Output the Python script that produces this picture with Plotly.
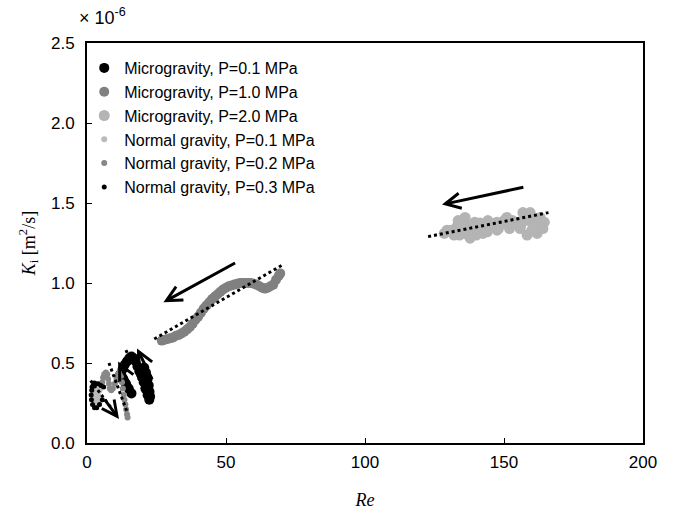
import plotly.graph_objects as go

# ---------------- data (K in units of 1e-6 m^2/s) ----------------
mg01_re = [11.5, 12.0, 12.8, 13.6, 14.4, 15.2, 16.0, 16.8, 17.5, 18.2, 18.8, 19.4, 20.0, 20.6,
           21.2, 21.8, 22.2, 22.5, 22.7, 22.4, 21.8, 21.0, 20.4, 19.8, 13.0, 14.0, 15.0, 16.0]
mg01_k = [0.41, 0.43, 0.46, 0.49, 0.51, 0.53, 0.54, 0.53, 0.51, 0.48, 0.45, 0.43, 0.45, 0.47,
          0.44, 0.40, 0.36, 0.32, 0.29, 0.27, 0.30, 0.34, 0.38, 0.41, 0.40, 0.37, 0.34, 0.31]

mg10_re = [26.9, 28, 29, 30, 31, 32, 33, 34, 35, 36, 37, 38, 39, 40, 41, 42, 43, 44, 45, 46, 47,
           48, 49, 50, 51, 52, 53, 54, 55, 56, 57, 58, 59, 60, 61, 62, 63, 64, 65, 66, 67, 68,
           69, 69.5]
mg10_k = [0.64, 0.645, 0.65, 0.655, 0.66, 0.67, 0.675, 0.685, 0.695, 0.71, 0.725, 0.745, 0.77,
          0.79, 0.815, 0.84, 0.86, 0.88, 0.90, 0.915, 0.93, 0.945, 0.96, 0.97, 0.98, 0.985,
          0.99, 0.995, 1.0, 1.0, 1.0, 1.0, 1.0, 0.995, 0.99, 0.98, 0.97, 0.965, 0.97, 0.98,
          0.99, 1.02, 1.045, 1.06]

mg20_re = [128.5, 130.6, 133.5, 136, 137.8, 141.4, 144.2, 147.5, 151, 153, 156.8, 159.4, 163,
           164.5, 129.5, 134, 137.8, 142.4, 147.5, 152, 155.8, 158.3, 161.9, 164,
           131, 133, 135, 137, 139, 141, 143, 145, 147, 149, 151, 153, 155, 157, 159, 161, 163,
           132, 136, 140, 144, 148, 152, 156, 160, 139.5, 150, 158, 162]
mg20_k = [1.31, 1.33, 1.39, 1.41, 1.36, 1.375, 1.39, 1.38, 1.41, 1.39, 1.44, 1.44, 1.41, 1.38,
          1.33, 1.30, 1.28, 1.31, 1.33, 1.34, 1.34, 1.30, 1.31, 1.34,
          1.32, 1.35, 1.36, 1.34, 1.32, 1.34, 1.35, 1.36, 1.36, 1.37, 1.37, 1.38, 1.38, 1.39,
          1.39, 1.37, 1.37,
          1.30, 1.31, 1.30, 1.32, 1.34, 1.35, 1.36, 1.33, 1.38, 1.39, 1.41, 1.40]

ng01_re = [2.5, 3.0, 2.5, 3.0, 3.5, 4.0, 4.5, 3.5, 4.0, 4.5, 5.0, 3.2, 2.2, 2.6, 3.8, 2.0, 3.0]
ng01_k = [0.36, 0.34, 0.31, 0.28, 0.25, 0.24, 0.26, 0.32, 0.30, 0.33, 0.36, 0.37, 0.33, 0.27,
          0.28, 0.30, 0.24]

ng02_re = [5.5, 5.8, 6.2, 6.8, 7.3, 7.6, 7.9, 8.2, 8.7, 9.3, 10.0, 10.6, 11.2, 11.8, 12.3, 12.6,
           12.9, 13.2, 13.5, 13.8, 14.1, 14.4, 14.6]
ng02_k = [0.38, 0.41, 0.43, 0.44, 0.43, 0.40, 0.37, 0.34, 0.33, 0.34, 0.37, 0.40, 0.43, 0.45,
          0.42, 0.38, 0.34, 0.30, 0.27, 0.24, 0.21, 0.18, 0.16]

ng03_re = [6.0, 5.0, 4.0, 3.0, 2.2, 1.7, 1.5, 1.6, 2.0, 2.7, 3.5, 4.5, 5.5, 1.8, 2.6]
ng03_k = [0.35, 0.36, 0.37, 0.37, 0.36, 0.33, 0.30, 0.27, 0.24, 0.22, 0.22, 0.24, 0.27, 0.35,
          0.375]

# fitted (dotted) lines: [Re_start, Re_end], [K_start, K_end]
fit_lines = [
    ([122.7, 166.0], [1.29, 1.44]),
    ([24.2, 70.0], [0.65, 1.11]),
    ([1.3, 9.1], [0.39, 0.21]),
    ([7.9, 14.5], [0.50, 0.19]),
]
fit_hidden = ([14.0, 19.0], [0.58, 0.40])

# arrows: (tail Re, tail K, head Re, head K)
arrows = [
    (157.5, 1.60, 127.7, 1.49),
    (53.8, 1.13, 27.5, 0.88),
    (23.7, 0.39, 18.0, 0.59),
    (17.3, 0.30, 11.2, 0.51),
    (6.0, 0.28, 11.5, 0.15),
]

x_ticks = [0, 50, 100, 150, 200]
y_ticks = [0.0, 0.5, 1.0, 1.5, 2.0, 2.5]
y_ticklabels = ["0.0", "0.5", "1.0", "1.5", "2.0", "2.5"]

# ---------------- figure ----------------
fig = go.Figure()

BLACK = "#000000"
GRAY = "#808080"
LGRAY = "#b4b4b4"
SANS = "Liberation Sans, Arial"
SERIF = "Liberation Serif, Times New Roman"

fig.add_trace(go.Scatter(x=fit_hidden[0], y=fit_hidden[1], mode="lines",
                         line=dict(color="black", width=3, dash="dot"),
                         showlegend=False, hoverinfo="skip"))

series = [
    ("Microgravity, P=0.1 MPa", mg01_re, mg01_k, BLACK, 10, 1),
    ("Microgravity, P=1.0 MPa", mg10_re, mg10_k, GRAY, 10, 2),
    ("Microgravity, P=2.0 MPa", mg20_re, mg20_k, LGRAY, 11, 3),
    ("Normal gravity, P=0.1 MPa", ng01_re, ng01_k, "#bbbbbb", 6, 4),
    ("Normal gravity, P=0.2 MPa", ng02_re, ng02_k, "#888888", 6, 5),
    ("Normal gravity, P=0.3 MPa", ng03_re, ng03_k, BLACK, 5, 6),
]
for name, xs, ys, col, sz, rank in series:
    fig.add_trace(go.Scatter(x=xs, y=ys, mode="markers", name=name,
                             marker=dict(color=col, size=sz, line=dict(width=0)),
                             legendrank=rank))

for xs, ys in fit_lines:
    fig.add_trace(go.Scatter(x=xs, y=ys, mode="lines",
                             line=dict(color="black", width=3, dash="dot"),
                             showlegend=False, hoverinfo="skip"))

for tx, ty, hx, hy in arrows:
    fig.add_annotation(x=hx, y=hy, ax=tx, ay=ty, xref="x", yref="y", axref="x", ayref="y",
                       showarrow=True, arrowhead=5, arrowsize=1.0, arrowwidth=3,
                       arrowcolor="black", text="")

fig.add_annotation(text="× 10<sup>-6</sup>", xref="paper", yref="paper",
                   x=-0.018, y=1.066, xanchor="left", yanchor="middle", showarrow=False,
                   font=dict(family=SANS, size=18, color="black"))

axis_common = dict(showline=True, linecolor="black", linewidth=2, mirror=True,
                   ticks="inside", ticklen=5, tickwidth=1, tickcolor="black",
                   showgrid=False, zeroline=False, automargin=False,
                   tickfont=dict(family=SANS, size=17, color="black"))

fig.update_xaxes(range=[0, 200], tickvals=x_ticks,
                 title=dict(text="<i>Re</i>", standoff=22,
                            font=dict(family=SERIF, size=18, color="black")),
                 ticklabelstandoff=3, **axis_common)
fig.update_yaxes(range=[0, 2.5], tickvals=y_ticks, ticktext=y_ticklabels,
                 title=dict(text="<i>K</i><sub>i</sub> [m<sup>2</sup>/s]", standoff=11,
                            font=dict(family=SERIF, size=18, color="black")),
                 ticklabelstandoff=7, **axis_common)

fig.update_layout(
    width=676, height=513,
    margin=dict(l=87, r=33, t=43, b=70),
    paper_bgcolor="white", plot_bgcolor="white",
    font=dict(family=SANS, size=15, color="black"),
    legend=dict(x=-0.005, y=0.98, xanchor="left", yanchor="top",
                bgcolor="rgba(0,0,0,0)", borderwidth=0, itemsizing="trace",
                tracegroupgap=0, font=dict(family=SANS, size=16, color="black")),
    showlegend=True,
)

fig.write_html("out.html", config={"displayModeBar": False},
               post_script="document.body.style.margin='0';document.body.style.padding='0';")
